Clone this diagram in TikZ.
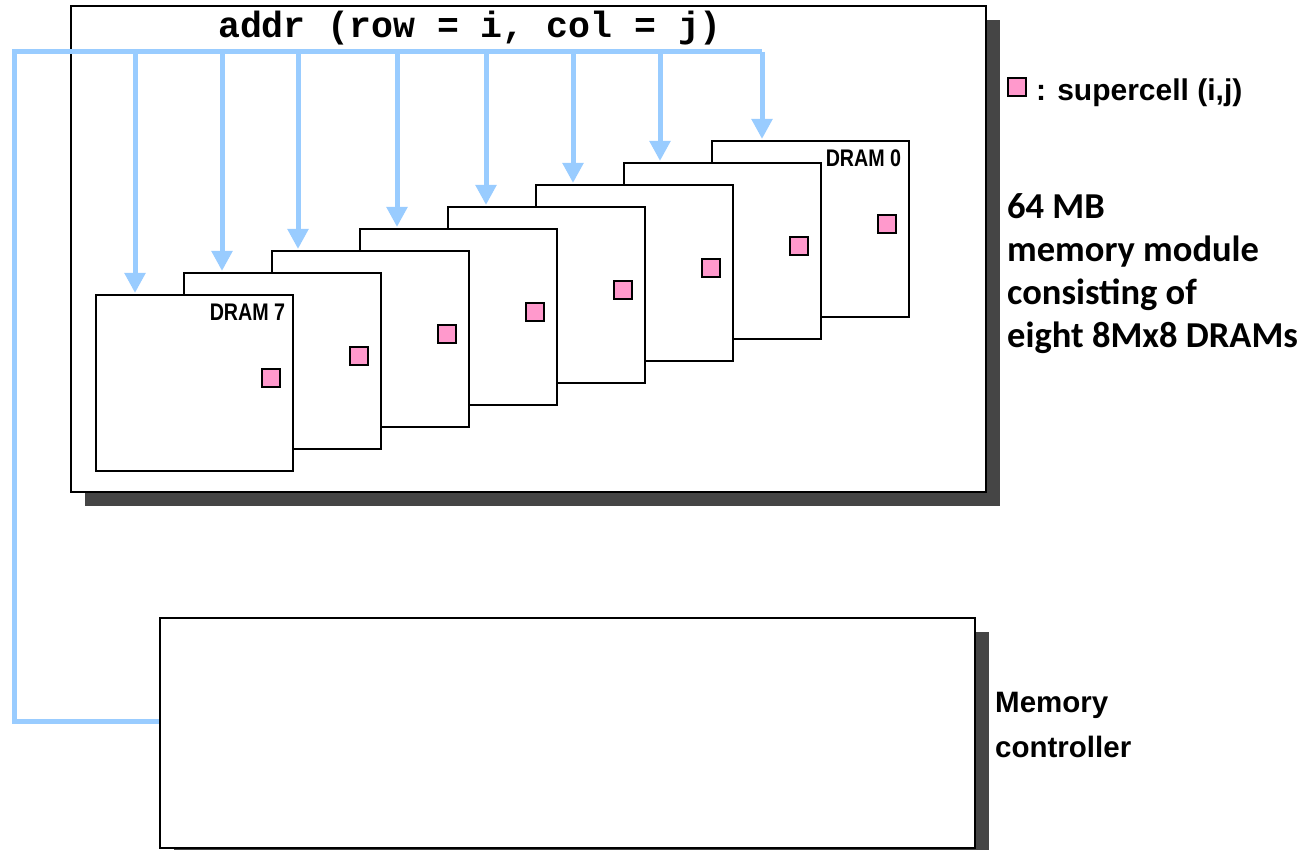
\documentclass[tikz,border=0pt]{standalone}
\usepackage{fontspec}
\setmainfont{Liberation Sans}
\setmonofont{Liberation Mono}
\newfontfamily\cbfont{Carlito}
\usepackage{graphicx}
\usetikzlibrary{arrows.meta,shadows}

\definecolor{busblue}{RGB}{153,204,255}
\definecolor{cellpink}{RGB}{255,153,204}

\newcommand{\dramname}[1]{\scalebox{0.82}[1]{DRAM #1}}

\tikzset{
    panel/.style={draw, line width=2.2pt, fill=white, inner sep=0pt, anchor=north west,
        drop shadow={shadow xshift=14pt, shadow yshift=-14pt, fill=black!73, opacity=1}},
    dram/.style={draw, line width=2.4pt, fill=white, inner sep=0pt, anchor=north west,
        minimum width=197pt, minimum height=176pt},
    cell/.style={draw, line width=1.8pt, fill=cellpink, inner sep=0pt, minimum size=18pt},
    dramlabel/.style={anchor=north east, inner sep=0pt, font=\bfseries\fontsize{24}{24}\selectfont},
    bus/.style={busblue, line width=5pt},
    feed/.style={bus, -{Triangle[length=20pt, width=20pt]}, shorten >=1pt}
}

\begin{document}
\begin{tikzpicture}[x=1pt, y=-1pt]
    \useasboundingbox (0,0) rectangle (1306,850);

    % Module and controller
    \node[panel, minimum width=915pt, minimum height=486pt] (module) at (70,5) {};
    \node[panel, minimum width=815pt, minimum height=230pt] (ctrl) at (159,617) {};

    % Eight DRAM chips, back to front
    \foreach \i in {0,...,7} {
        \pgfmathsetmacro\dx{95+88*(7-\i)}
        \pgfmathsetmacro\dy{294-22*(7-\i)}
        \node[dram] (dram\i) at (\dx,\dy) {};
        \node[cell] (cell\i) at ([xshift=176pt, yshift=-84pt]dram\i.north west) {};
    }
    \node[dramlabel] at ([xshift=-9pt, yshift=-10pt]dram7.north east) {\dramname{7}};
    \node[dramlabel] at ([xshift=-9pt, yshift=-10pt]dram0.north east) {\dramname{0}};

    % Address bus
    \coordinate (busL) at (14,52);
    \coordinate (busR) at (762,52);
    \draw[bus] (busR) -- (busL) |- ([yshift=12pt]ctrl.west);
    \foreach \i/\x in {7/135, 6/222, 5/298, 4/397, 3/486, 2/573, 1/660, 0/762} {
        \coordinate (tap\i) at (\x,52);
        \draw[feed] (tap\i) -- (tap\i |- dram\i.north);
    }
    \node[font=\ttfamily\bfseries\fontsize{36.5}{36.5}\selectfont] (addr) at (470,28)
        {addr (row = i, col = j)};

    % Legend and captions (base = last line)
    \node[cell] (key) at (1017,87) {};
    \node[anchor=base west, inner sep=0pt, font=\bfseries\fontsize{30}{30}\selectfont]
        (keytext) at (1036,101) {: supercell (i,j)};
    \node[anchor=base west, inner sep=0pt, align=left, font=\cbfont\bfseries\fontsize{36.5}{43}\selectfont]
        (modtext) at (1007,347) {64 MB\\memory module\\consisting of\\eight 8Mx8 DRAMs};
    \node[anchor=base west, inner sep=0pt, align=left, font=\bfseries\fontsize{29.5}{45}\selectfont]
        (ctrltext) at (995,757) {Memory\\controller};
\end{tikzpicture}
\end{document}
